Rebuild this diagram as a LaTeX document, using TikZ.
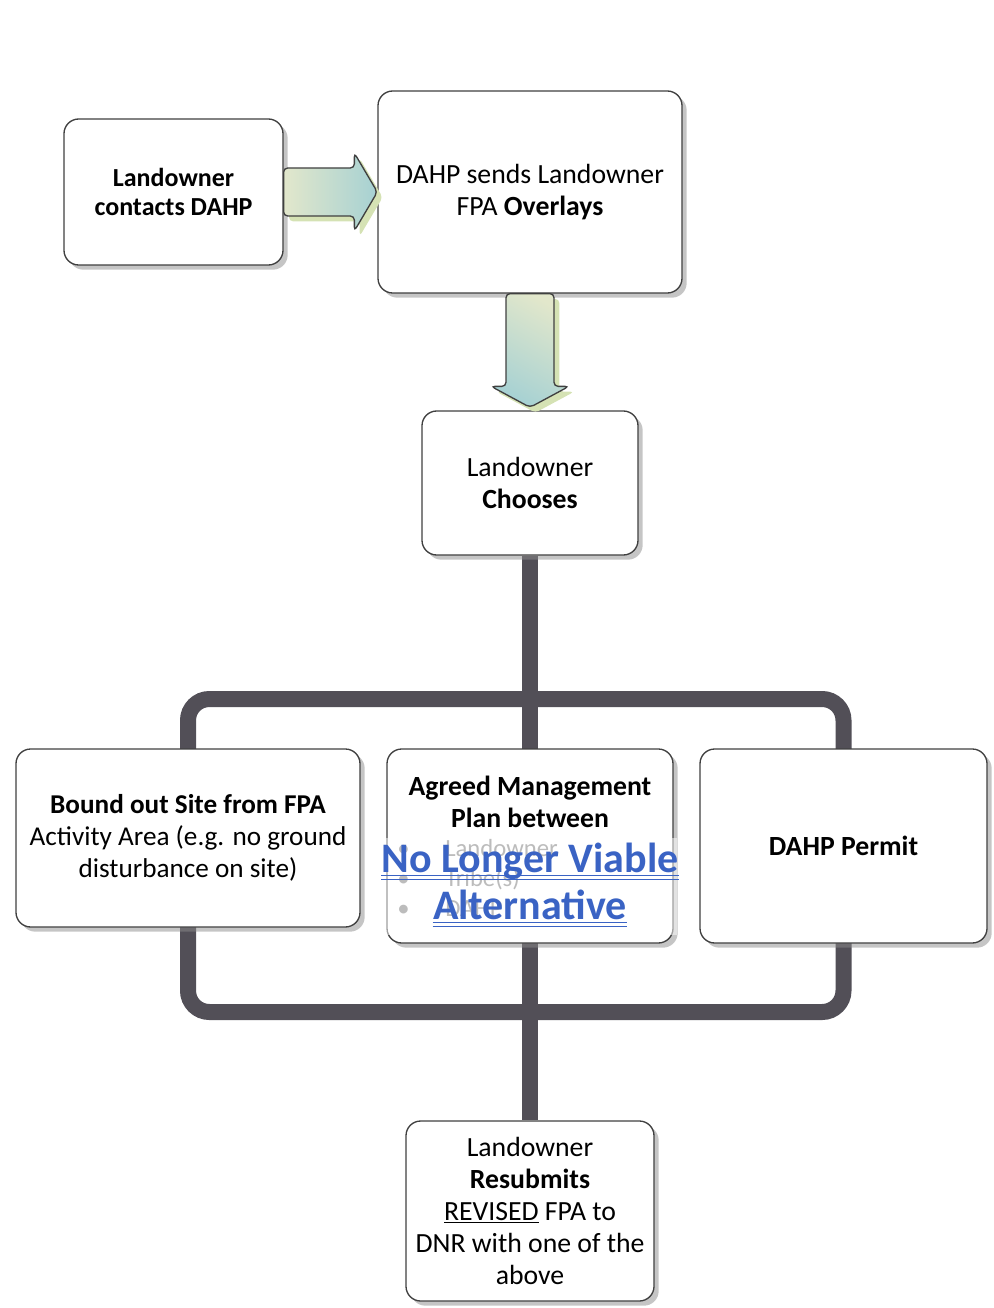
\documentclass[tikz,border=0pt]{standalone}
\usepackage{fontspec}
\setmainfont{Carlito}
\usetikzlibrary{shadows,calc,backgrounds}

\definecolor{boxedge}{HTML}{404040}
\definecolor{barcol}{HTML}{524F57}
\definecolor{cream}{HTML}{E2E7CB}
\definecolor{arrowteal}{HTML}{A6D1D3}
\definecolor{arrowshade}{HTML}{D5E2B4}
\definecolor{linkblue}{HTML}{3A63C4}
\definecolor{faded}{HTML}{7A7A7A}

\tikzset{
  stepbox/.style={rectangle, rounded corners=11pt, draw=boxedge, line width=1pt, fill=white,
    align=center, font=\fontsize{20.8}{24}\selectfont,
    drop shadow={shadow xshift=3.5pt, shadow yshift=-3.5pt, fill=black!45, opacity=0.5}},
  bar/.style={draw=barcol, line width=12pt},
  fatarrow/.style={draw=boxedge, line width=1pt, rounded corners=3pt,
    general shadow={fill=arrowshade, shadow xshift=4pt, shadow yshift=-4pt}},
  bulletline/.style={inner sep=0pt, text=faded, font=\fontsize{18.5}{22}\selectfont},
  gone/.style={inner sep=0pt, text=linkblue, font=\bfseries\fontsize{31.5}{36}\selectfont},
}

\begin{document}
\begin{tikzpicture}[x=0.75pt,y=-0.75pt]
\useasboundingbox (0,0) rectangle (994,1308);

\node[stepbox, minimum width=164.25pt, minimum height=109.5pt, font=\fontsize{19.5}{21.75}\selectfont] (contacts) at (173.5,192) {\textbf{Landowner}\\\textbf{contacts DAHP}};
\node[stepbox, minimum width=228pt, minimum height=151.5pt] (sends) at (530,192) {DAHP sends Landowner\\FPA \textbf{Overlays}};
\node[stepbox, minimum width=162pt, minimum height=108pt] (chooses) at (530,483) {Landowner\\\textbf{Chooses}};

\node[stepbox, minimum width=258pt, minimum height=133.5pt, font=\fontsize{20.4}{24}\selectfont] (bound) at (188,838) {\textbf{Bound out Site from FPA}\\Activity Area (e.g. no ground\\disturbance on site)};
\node[stepbox, minimum width=214.5pt, minimum height=145.5pt] (agreed) at (530,846) {};
\node[stepbox, minimum width=215.25pt, minimum height=145.5pt] (permit) at (843.5,846) {\textbf{DAHP Permit}};
\node[stepbox, minimum width=186pt, minimum height=135pt] (resubmit) at (530,1211) {Landowner\\\textbf{Resubmits}\\\underline{REVISED} FPA to\\DNR with one of the\\above};

% arrows
\path[fatarrow, left color=cream, right color=arrowteal]
  ($(contacts.east)+(0,-24)$) -- ($(sends.west)+(-23,-24)$) -- ($(sends.west)+(-23,-39)$)
  -- (sends.west) -- ($(sends.west)+(-23,39)$) -- ($(sends.west)+(-23,24)$)
  -- ($(contacts.east)+(0,24)$) -- cycle;
\path[fatarrow, top color=cream, bottom color=arrowteal, shading angle=-30]
  ($(sends.south)+(-24,0)$) -- ($(chooses.north)+(-24,-24)$) -- ($(chooses.north)+(-39,-24)$)
  -- ($(chooses.north)+(0,-3)$) -- ($(chooses.north)+(39,-24)$) -- ($(chooses.north)+(24,-24)$)
  -- ($(sends.south)+(24,0)$) -- cycle;

% the agreed plan text
\node[font=\bfseries\fontsize{20.8}{24}\selectfont, align=center] (agreedtitle) at (530,802) {Agreed Management\\Plan between};
\node[bulletline, anchor=base west] (who1) at (397,856) {\makebox[36pt][l]{\textbullet}Landowner};
\node[bulletline, anchor=base west] (who2) at (397,886) {\makebox[36pt][l]{\textbullet}Tribe(s)};
\node[bulletline, anchor=base west] (who3) at (397,916) {\makebox[36pt][l]{\textbullet}DAHP};

\node[fill=white, fill opacity=0.5, inner sep=0pt, minimum width=220.5pt, minimum height=72.75pt] (veil) at (530,886.5) {};
\node[gone, anchor=base] (nolonger) at (530,872) {No Longer Viable};
\node[gone, anchor=base] (alt) at (530,919) {Alternative};
\draw[linkblue, line width=0.9pt] ([yshift=-2.5pt]nolonger.base west) -- ([yshift=-2.5pt]nolonger.base east);
\draw[linkblue, line width=0.9pt] ([yshift=-5.5pt]nolonger.base west) -- ([yshift=-5.5pt]nolonger.base east);
\draw[linkblue, line width=0.9pt] ([yshift=-2.5pt]alt.base west) -- ([yshift=-2.5pt]alt.base east);
\draw[linkblue, line width=0.9pt] ([yshift=-5.5pt]alt.base west) -- ([yshift=-5.5pt]alt.base east);

% the thick connectors
\begin{scope}[on background layer]
\coordinate (looptop) at (530,699);
\coordinate (loopbot) at (530,1012);
\draw[bar] (chooses.south) -- (resubmit.north);
\draw[bar, rounded corners=16pt] (bound.center |- looptop) rectangle (permit.center |- loopbot);
\end{scope}
\end{tikzpicture}
\end{document}
